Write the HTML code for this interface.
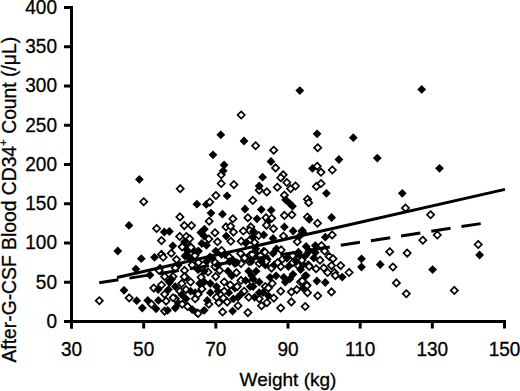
<!DOCTYPE html>
<html><head><meta charset="utf-8"><style>
html,body{margin:0;padding:0;background:#fff;}
svg{display:block;}
.o{fill:#fff;stroke:#000;stroke-width:1.7px;}
.f{fill:#000;}
text{font-family:"Liberation Sans",sans-serif;font-size:19px;fill:#000;stroke:#000;stroke-width:0.3px;}
.t{font-size:19.6px;}
</style></head><body>
<svg width="520" height="391" viewBox="0 0 520 391">
<line x1="71.5" y1="6.5" x2="71.5" y2="328.5" stroke="#000" stroke-width="3"/>
<line x1="70" y1="321.5" x2="506" y2="321.5" stroke="#000" stroke-width="3"/>
<line x1="64" y1="321.50" x2="73" y2="321.50" stroke="#000" stroke-width="3"/>
<text transform="translate(57 327.80) scale(0.97 1)" class="t" text-anchor="end">0</text>
<line x1="64" y1="282.25" x2="73" y2="282.25" stroke="#000" stroke-width="3"/>
<text transform="translate(57 288.55) scale(0.97 1)" class="t" text-anchor="end">50</text>
<line x1="64" y1="243.00" x2="73" y2="243.00" stroke="#000" stroke-width="3"/>
<text transform="translate(57 249.30) scale(0.97 1)" class="t" text-anchor="end">100</text>
<line x1="64" y1="203.75" x2="73" y2="203.75" stroke="#000" stroke-width="3"/>
<text transform="translate(57 210.05) scale(0.97 1)" class="t" text-anchor="end">150</text>
<line x1="64" y1="164.50" x2="73" y2="164.50" stroke="#000" stroke-width="3"/>
<text transform="translate(57 170.80) scale(0.97 1)" class="t" text-anchor="end">200</text>
<line x1="64" y1="125.25" x2="73" y2="125.25" stroke="#000" stroke-width="3"/>
<text transform="translate(57 131.55) scale(0.97 1)" class="t" text-anchor="end">250</text>
<line x1="64" y1="86.00" x2="73" y2="86.00" stroke="#000" stroke-width="3"/>
<text transform="translate(57 92.30) scale(0.97 1)" class="t" text-anchor="end">300</text>
<line x1="64" y1="46.75" x2="73" y2="46.75" stroke="#000" stroke-width="3"/>
<text transform="translate(57 53.05) scale(0.97 1)" class="t" text-anchor="end">350</text>
<line x1="64" y1="7.50" x2="73" y2="7.50" stroke="#000" stroke-width="3"/>
<text transform="translate(57 13.80) scale(0.97 1)" class="t" text-anchor="end">400</text>
<line x1="71.50" y1="320" x2="71.50" y2="328.5" stroke="#000" stroke-width="3"/>
<text transform="translate(71.50 355.9) scale(0.97 1)" class="t" text-anchor="middle">30</text>
<line x1="143.67" y1="320" x2="143.67" y2="328.5" stroke="#000" stroke-width="3"/>
<text transform="translate(143.67 355.9) scale(0.97 1)" class="t" text-anchor="middle">50</text>
<line x1="215.83" y1="320" x2="215.83" y2="328.5" stroke="#000" stroke-width="3"/>
<text transform="translate(215.83 355.9) scale(0.97 1)" class="t" text-anchor="middle">70</text>
<line x1="288.00" y1="320" x2="288.00" y2="328.5" stroke="#000" stroke-width="3"/>
<text transform="translate(288.00 355.9) scale(0.97 1)" class="t" text-anchor="middle">90</text>
<line x1="360.16" y1="320" x2="360.16" y2="328.5" stroke="#000" stroke-width="3"/>
<text transform="translate(360.16 355.9) scale(0.97 1)" class="t" text-anchor="middle">110</text>
<line x1="432.33" y1="320" x2="432.33" y2="328.5" stroke="#000" stroke-width="3"/>
<text transform="translate(432.33 355.9) scale(0.97 1)" class="t" text-anchor="middle">130</text>
<line x1="504.50" y1="320" x2="504.50" y2="328.5" stroke="#000" stroke-width="3"/>
<text transform="translate(504.50 355.9) scale(0.97 1)" class="t" text-anchor="middle">150</text>
<text x="288" y="386" text-anchor="middle">Weight (kg)</text>
<text transform="translate(15.8,199.7) rotate(-90)" text-anchor="middle" style="font-size:19.3px">After-G-CSF Blood CD34<tspan dy="-8.5" style="font-size:11.5px">+</tspan><tspan dy="8.5"> Count (/μL)</tspan></text>
<path class="f" d="M299.8 86.2l4.4 4.4-4.4 4.4-4.4-4.4z"/>
<path class="f" d="M421.7 85.0l4.4 4.4-4.4 4.4-4.4-4.4z"/>
<path class="o" d="M241.2 111.4l3.6 3.6-3.6 3.6-3.6-3.6z"/>
<path class="f" d="M220.8 130.4l4.4 4.4-4.4 4.4-4.4-4.4z"/>
<path class="f" d="M244.0 136.6l4.4 4.4-4.4 4.4-4.4-4.4z"/>
<path class="o" d="M255.6 142.2l3.6 3.6-3.6 3.6-3.6-3.6z"/>
<path class="o" d="M273.7 146.6l3.6 3.6-3.6 3.6-3.6-3.6z"/>
<path class="f" d="M317.1 129.4l4.4 4.4-4.4 4.4-4.4-4.4z"/>
<path class="f" d="M353.3 133.3l4.4 4.4-4.4 4.4-4.4-4.4z"/>
<path class="o" d="M317.7 144.1l3.6 3.6-3.6 3.6-3.6-3.6z"/>
<path class="f" d="M377.3 153.7l4.4 4.4-4.4 4.4-4.4-4.4z"/>
<path class="f" d="M439.5 163.9l4.4 4.4-4.4 4.4-4.4-4.4z"/>
<path class="f" d="M402.3 188.9l4.4 4.4-4.4 4.4-4.4-4.4z"/>
<path class="o" d="M405.5 204.5l3.6 3.6-3.6 3.6-3.6-3.6z"/>
<path class="o" d="M430.6 211.2l3.6 3.6-3.6 3.6-3.6-3.6z"/>
<path class="o" d="M437.3 231.4l3.6 3.6-3.6 3.6-3.6-3.6z"/>
<path class="o" d="M422.8 236.6l3.6 3.6-3.6 3.6-3.6-3.6z"/>
<path class="o" d="M478.2 240.9l3.6 3.6-3.6 3.6-3.6-3.6z"/>
<path class="f" d="M479.6 250.6l4.4 4.4-4.4 4.4-4.4-4.4z"/>
<path class="o" d="M389.7 248.1l3.6 3.6-3.6 3.6-3.6-3.6z"/>
<path class="o" d="M407.2 249.5l3.6 3.6-3.6 3.6-3.6-3.6z"/>
<path class="f" d="M380.2 260.1l4.4 4.4-4.4 4.4-4.4-4.4z"/>
<path class="o" d="M392.9 263.4l3.6 3.6-3.6 3.6-3.6-3.6z"/>
<path class="f" d="M432.6 265.2l4.4 4.4-4.4 4.4-4.4-4.4z"/>
<path class="o" d="M396.4 279.3l3.6 3.6-3.6 3.6-3.6-3.6z"/>
<path class="o" d="M406.3 290.1l3.6 3.6-3.6 3.6-3.6-3.6z"/>
<path class="o" d="M454.3 286.8l3.6 3.6-3.6 3.6-3.6-3.6z"/>
<path class="f" d="M338.9 155.1l4.4 4.4-4.4 4.4-4.4-4.4z"/>
<path class="f" d="M312.5 164.0l4.4 4.4-4.4 4.4-4.4-4.4z"/>
<path class="o" d="M317.2 162.6l3.6 3.6-3.6 3.6-3.6-3.6z"/>
<path class="o" d="M321.0 168.7l3.6 3.6-3.6 3.6-3.6-3.6z"/>
<path class="o" d="M332.3 166.4l3.6 3.6-3.6 3.6-3.6-3.6z"/>
<path class="o" d="M316.4 182.8l3.6 3.6-3.6 3.6-3.6-3.6z"/>
<path class="o" d="M321.0 179.9l3.6 3.6-3.6 3.6-3.6-3.6z"/>
<path class="f" d="M326.4 188.9l4.4 4.4-4.4 4.4-4.4-4.4z"/>
<path class="f" d="M139.4 175.0l4.4 4.4-4.4 4.4-4.4-4.4z"/>
<path class="o" d="M143.7 198.1l3.6 3.6-3.6 3.6-3.6-3.6z"/>
<path class="f" d="M129.0 221.0l4.4 4.4-4.4 4.4-4.4-4.4z"/>
<path class="f" d="M117.8 246.6l4.4 4.4-4.4 4.4-4.4-4.4z"/>
<path class="o" d="M99.3 297.1l3.6 3.6-3.6 3.6-3.6-3.6z"/>
<path class="f" d="M124.0 285.9l4.4 4.4-4.4 4.4-4.4-4.4z"/>
<path class="o" d="M129.2 294.3l3.6 3.6-3.6 3.6-3.6-3.6z"/>
<path class="f" d="M136.7 296.3l4.4 4.4-4.4 4.4-4.4-4.4z"/>
<path class="f" d="M135.9 264.7l4.4 4.4-4.4 4.4-4.4-4.4z"/>
<path class="o" d="M180.2 185.1l3.6 3.6-3.6 3.6-3.6-3.6z"/>
<path class="f" d="M213.0 150.4l4.4 4.4-4.4 4.4-4.4-4.4z"/>
<path class="f" d="M224.1 160.6l4.4 4.4-4.4 4.4-4.4-4.4z"/>
<path class="o" d="M221.3 171.2l3.6 3.6-3.6 3.6-3.6-3.6z"/>
<path class="f" d="M223.2 166.4l4.4 4.4-4.4 4.4-4.4-4.4z"/>
<path class="o" d="M221.2 179.9l3.6 3.6-3.6 3.6-3.6-3.6z"/>
<path class="o" d="M233.9 181.0l3.6 3.6-3.6 3.6-3.6-3.6z"/>
<path class="f" d="M262.6 172.8l4.4 4.4-4.4 4.4-4.4-4.4z"/>
<path class="o" d="M259.2 186.6l3.6 3.6-3.6 3.6-3.6-3.6z"/>
<path class="f" d="M259.2 181.6l4.4 4.4-4.4 4.4-4.4-4.4z"/>
<path class="f" d="M196.9 199.8l4.4 4.4-4.4 4.4-4.4-4.4z"/>
<path class="o" d="M179.9 213.3l3.6 3.6-3.6 3.6-3.6-3.6z"/>
<path class="o" d="M184.3 222.0l3.6 3.6-3.6 3.6-3.6-3.6z"/>
<path class="o" d="M191.5 222.0l3.6 3.6-3.6 3.6-3.6-3.6z"/>
<path class="o" d="M156.6 224.9l3.6 3.6-3.6 3.6-3.6-3.6z"/>
<path class="f" d="M164.3 227.6l4.4 4.4-4.4 4.4-4.4-4.4z"/>
<path class="f" d="M169.4 227.1l4.4 4.4-4.4 4.4-4.4-4.4z"/>
<path class="f" d="M204.4 224.8l4.4 4.4-4.4 4.4-4.4-4.4z"/>
<path class="o" d="M161.5 237.0l3.6 3.6-3.6 3.6-3.6-3.6z"/>
<path class="o" d="M179.7 232.9l3.6 3.6-3.6 3.6-3.6-3.6z"/>
<path class="o" d="M186.3 232.9l3.6 3.6-3.6 3.6-3.6-3.6z"/>
<path class="o" d="M189.7 235.2l3.6 3.6-3.6 3.6-3.6-3.6z"/>
<path class="f" d="M172.8 241.4l4.4 4.4-4.4 4.4-4.4-4.4z"/>
<path class="o" d="M171.3 249.7l3.6 3.6-3.6 3.6-3.6-3.6z"/>
<path class="o" d="M182.8 242.7l3.6 3.6-3.6 3.6-3.6-3.6z"/>
<path class="f" d="M185.7 243.6l4.4 4.4-4.4 4.4-4.4-4.4z"/>
<path class="o" d="M189.7 242.7l3.6 3.6-3.6 3.6-3.6-3.6z"/>
<path class="f" d="M154.5 252.9l4.4 4.4-4.4 4.4-4.4-4.4z"/>
<path class="o" d="M161.5 250.8l3.6 3.6-3.6 3.6-3.6-3.6z"/>
<path class="o" d="M163.2 253.7l3.6 3.6-3.6 3.6-3.6-3.6z"/>
<path class="f" d="M141.3 254.3l4.4 4.4-4.4 4.4-4.4-4.4z"/>
<path class="o" d="M176.5 256.0l3.6 3.6-3.6 3.6-3.6-3.6z"/>
<path class="f" d="M186.8 250.6l4.4 4.4-4.4 4.4-4.4-4.4z"/>
<path class="o" d="M194.9 252.0l3.6 3.6-3.6 3.6-3.6-3.6z"/>
<path class="f" d="M197.8 247.1l4.4 4.4-4.4 4.4-4.4-4.4z"/>
<path class="f" d="M201.8 239.1l4.4 4.4-4.4 4.4-4.4-4.4z"/>
<path class="f" d="M184.5 237.6l4.4 4.4-4.4 4.4-4.4-4.4z"/>
<path class="f" d="M188.0 246.6l4.4 4.4-4.4 4.4-4.4-4.4z"/>
<path class="f" d="M185.0 251.6l4.4 4.4-4.4 4.4-4.4-4.4z"/>
<path class="f" d="M190.5 254.6l4.4 4.4-4.4 4.4-4.4-4.4z"/>
<path class="f" d="M193.0 245.6l4.4 4.4-4.4 4.4-4.4-4.4z"/>
<path class="o" d="M182.2 243.3l3.6 3.6-3.6 3.6-3.6-3.6z"/>
<path class="o" d="M191.0 243.8l3.6 3.6-3.6 3.6-3.6-3.6z"/>
<path class="f" d="M271.0 157.1l4.4 4.4-4.4 4.4-4.4-4.4z"/>
<path class="o" d="M275.6 164.3l3.6 3.6-3.6 3.6-3.6-3.6z"/>
<path class="o" d="M283.1 171.2l3.6 3.6-3.6 3.6-3.6-3.6z"/>
<path class="o" d="M280.8 174.1l3.6 3.6-3.6 3.6-3.6-3.6z"/>
<path class="o" d="M286.8 178.9l3.6 3.6-3.6 3.6-3.6-3.6z"/>
<path class="o" d="M277.3 183.6l3.6 3.6-3.6 3.6-3.6-3.6z"/>
<path class="o" d="M290.6 185.1l3.6 3.6-3.6 3.6-3.6-3.6z"/>
<path class="o" d="M295.5 182.4l3.6 3.6-3.6 3.6-3.6-3.6z"/>
<path class="o" d="M266.8 188.3l3.6 3.6-3.6 3.6-3.6-3.6z"/>
<path class="o" d="M215.9 191.9l3.6 3.6-3.6 3.6-3.6-3.6z"/>
<path class="f" d="M227.1 191.4l4.4 4.4-4.4 4.4-4.4-4.4z"/>
<path class="o" d="M252.8 196.8l3.6 3.6-3.6 3.6-3.6-3.6z"/>
<path class="f" d="M206.3 200.0l4.4 4.4-4.4 4.4-4.4-4.4z"/>
<path class="o" d="M209.8 198.5l3.6 3.6-3.6 3.6-3.6-3.6z"/>
<path class="f" d="M211.0 208.7l4.4 4.4-4.4 4.4-4.4-4.4z"/>
<path class="f" d="M222.5 209.8l4.4 4.4-4.4 4.4-4.4-4.4z"/>
<path class="f" d="M245.0 204.6l4.4 4.4-4.4 4.4-4.4-4.4z"/>
<path class="o" d="M247.9 214.1l3.6 3.6-3.6 3.6-3.6-3.6z"/>
<path class="o" d="M232.9 215.2l3.6 3.6-3.6 3.6-3.6-3.6z"/>
<path class="o" d="M209.2 217.6l3.6 3.6-3.6 3.6-3.6-3.6z"/>
<path class="o" d="M226.0 223.3l3.6 3.6-3.6 3.6-3.6-3.6z"/>
<path class="o" d="M230.6 222.7l3.6 3.6-3.6 3.6-3.6-3.6z"/>
<path class="o" d="M250.8 223.3l3.6 3.6-3.6 3.6-3.6-3.6z"/>
<path class="o" d="M249.6 226.8l3.6 3.6-3.6 3.6-3.6-3.6z"/>
<path class="o" d="M215.0 229.1l3.6 3.6-3.6 3.6-3.6-3.6z"/>
<path class="o" d="M233.5 228.5l3.6 3.6-3.6 3.6-3.6-3.6z"/>
<path class="o" d="M243.3 227.4l3.6 3.6-3.6 3.6-3.6-3.6z"/>
<path class="o" d="M284.4 191.6l3.6 3.6-3.6 3.6-3.6-3.6z"/>
<path class="f" d="M285.6 195.4l4.4 4.4-4.4 4.4-4.4-4.4z"/>
<path class="f" d="M289.6 198.9l4.4 4.4-4.4 4.4-4.4-4.4z"/>
<path class="f" d="M292.5 201.8l4.4 4.4-4.4 4.4-4.4-4.4z"/>
<path class="o" d="M307.5 195.6l3.6 3.6-3.6 3.6-3.6-3.6z"/>
<path class="o" d="M308.7 199.1l3.6 3.6-3.6 3.6-3.6-3.6z"/>
<path class="f" d="M261.3 205.2l4.4 4.4-4.4 4.4-4.4-4.4z"/>
<path class="f" d="M271.2 205.8l4.4 4.4-4.4 4.4-4.4-4.4z"/>
<path class="o" d="M284.4 211.8l3.6 3.6-3.6 3.6-3.6-3.6z"/>
<path class="o" d="M291.9 211.2l3.6 3.6-3.6 3.6-3.6-3.6z"/>
<path class="o" d="M266.0 214.1l3.6 3.6-3.6 3.6-3.6-3.6z"/>
<path class="o" d="M271.7 214.7l3.6 3.6-3.6 3.6-3.6-3.6z"/>
<path class="f" d="M257.0 214.4l4.4 4.4-4.4 4.4-4.4-4.4z"/>
<path class="f" d="M268.3 216.8l4.4 4.4-4.4 4.4-4.4-4.4z"/>
<path class="o" d="M307.5 213.5l3.6 3.6-3.6 3.6-3.6-3.6z"/>
<path class="f" d="M309.2 215.0l4.4 4.4-4.4 4.4-4.4-4.4z"/>
<path class="o" d="M266.5 221.6l3.6 3.6-3.6 3.6-3.6-3.6z"/>
<path class="f" d="M284.4 222.5l4.4 4.4-4.4 4.4-4.4-4.4z"/>
<path class="o" d="M273.5 225.1l3.6 3.6-3.6 3.6-3.6-3.6z"/>
<path class="f" d="M293.1 226.6l4.4 4.4-4.4 4.4-4.4-4.4z"/>
<path class="f" d="M302.3 226.0l4.4 4.4-4.4 4.4-4.4-4.4z"/>
<path class="f" d="M331.6 213.1l4.4 4.4-4.4 4.4-4.4-4.4z"/>
<path class="o" d="M317.5 219.6l3.6 3.6-3.6 3.6-3.6-3.6z"/>
<path class="f" d="M142.3 303.6l4.4 4.4-4.4 4.4-4.4-4.4z"/>
<path class="f" d="M147.7 296.0l4.4 4.4-4.4 4.4-4.4-4.4z"/>
<path class="o" d="M151.5 300.6l3.6 3.6-3.6 3.6-3.6-3.6z"/>
<path class="f" d="M156.1 304.4l4.4 4.4-4.4 4.4-4.4-4.4z"/>
<path class="o" d="M153.8 284.5l3.6 3.6-3.6 3.6-3.6-3.6z"/>
<path class="o" d="M161.5 281.4l3.6 3.6-3.6 3.6-3.6-3.6z"/>
<path class="o" d="M164.6 290.6l3.6 3.6-3.6 3.6-3.6-3.6z"/>
<path class="f" d="M158.4 296.0l4.4 4.4-4.4 4.4-4.4-4.4z"/>
<path class="o" d="M166.1 297.5l3.6 3.6-3.6 3.6-3.6-3.6z"/>
<path class="f" d="M169.2 276.8l4.4 4.4-4.4 4.4-4.4-4.4z"/>
<path class="o" d="M164.6 273.0l3.6 3.6-3.6 3.6-3.6-3.6z"/>
<path class="o" d="M173.0 273.0l3.6 3.6-3.6 3.6-3.6-3.6z"/>
<path class="o" d="M179.9 287.6l3.6 3.6-3.6 3.6-3.6-3.6z"/>
<path class="f" d="M175.3 282.2l4.4 4.4-4.4 4.4-4.4-4.4z"/>
<path class="o" d="M184.5 266.8l3.6 3.6-3.6 3.6-3.6-3.6z"/>
<path class="f" d="M186.0 272.9l4.4 4.4-4.4 4.4-4.4-4.4z"/>
<path class="o" d="M190.6 278.4l3.6 3.6-3.6 3.6-3.6-3.6z"/>
<path class="o" d="M186.0 286.0l3.6 3.6-3.6 3.6-3.6-3.6z"/>
<path class="o" d="M175.3 295.2l3.6 3.6-3.6 3.6-3.6-3.6z"/>
<path class="f" d="M178.4 299.0l4.4 4.4-4.4 4.4-4.4-4.4z"/>
<path class="f" d="M175.3 303.6l4.4 4.4-4.4 4.4-4.4-4.4z"/>
<path class="o" d="M164.6 307.5l3.6 3.6-3.6 3.6-3.6-3.6z"/>
<path class="f" d="M167.6 305.9l4.4 4.4-4.4 4.4-4.4-4.4z"/>
<path class="o" d="M182.2 300.6l3.6 3.6-3.6 3.6-3.6-3.6z"/>
<path class="f" d="M186.0 294.4l4.4 4.4-4.4 4.4-4.4-4.4z"/>
<path class="o" d="M187.6 302.9l3.6 3.6-3.6 3.6-3.6-3.6z"/>
<path class="f" d="M192.2 305.2l4.4 4.4-4.4 4.4-4.4-4.4z"/>
<path class="o" d="M195.2 295.2l3.6 3.6-3.6 3.6-3.6-3.6z"/>
<path class="f" d="M196.8 308.2l4.4 4.4-4.4 4.4-4.4-4.4z"/>
<path class="f" d="M190.6 286.8l4.4 4.4-4.4 4.4-4.4-4.4z"/>
<path class="f" d="M195.2 288.3l4.4 4.4-4.4 4.4-4.4-4.4z"/>
<path class="o" d="M192.2 261.4l3.6 3.6-3.6 3.6-3.6-3.6z"/>
<path class="f" d="M178.4 260.6l4.4 4.4-4.4 4.4-4.4-4.4z"/>
<path class="o" d="M175.3 264.5l3.6 3.6-3.6 3.6-3.6-3.6z"/>
<path class="f" d="M160.0 263.7l4.4 4.4-4.4 4.4-4.4-4.4z"/>
<path class="o" d="M159.2 266.8l3.6 3.6-3.6 3.6-3.6-3.6z"/>
<path class="f" d="M204.2 305.9l4.4 4.4-4.4 4.4-4.4-4.4z"/>
<path class="o" d="M222.6 308.3l3.6 3.6-3.6 3.6-3.6-3.6z"/>
<path class="o" d="M247.9 309.0l3.6 3.6-3.6 3.6-3.6-3.6z"/>
<path class="o" d="M198.1 309.8l3.6 3.6-3.6 3.6-3.6-3.6z"/>
<path class="o" d="M208.8 300.6l3.6 3.6-3.6 3.6-3.6-3.6z"/>
<path class="o" d="M218.8 299.1l3.6 3.6-3.6 3.6-3.6-3.6z"/>
<path class="f" d="M232.6 306.7l4.4 4.4-4.4 4.4-4.4-4.4z"/>
<path class="o" d="M238.0 302.1l3.6 3.6-3.6 3.6-3.6-3.6z"/>
<path class="o" d="M216.5 293.7l3.6 3.6-3.6 3.6-3.6-3.6z"/>
<path class="o" d="M223.4 294.5l3.6 3.6-3.6 3.6-3.6-3.6z"/>
<path class="f" d="M233.4 294.4l4.4 4.4-4.4 4.4-4.4-4.4z"/>
<path class="o" d="M201.9 285.3l3.6 3.6-3.6 3.6-3.6-3.6z"/>
<path class="o" d="M198.1 290.6l3.6 3.6-3.6 3.6-3.6-3.6z"/>
<path class="f" d="M207.3 296.0l4.4 4.4-4.4 4.4-4.4-4.4z"/>
<path class="f" d="M210.3 279.1l4.4 4.4-4.4 4.4-4.4-4.4z"/>
<path class="f" d="M216.5 282.2l4.4 4.4-4.4 4.4-4.4-4.4z"/>
<path class="f" d="M204.2 277.6l4.4 4.4-4.4 4.4-4.4-4.4z"/>
<path class="o" d="M201.1 273.7l3.6 3.6-3.6 3.6-3.6-3.6z"/>
<path class="o" d="M215.7 273.0l3.6 3.6-3.6 3.6-3.6-3.6z"/>
<path class="o" d="M224.2 278.4l3.6 3.6-3.6 3.6-3.6-3.6z"/>
<path class="o" d="M219.6 266.8l3.6 3.6-3.6 3.6-3.6-3.6z"/>
<path class="o" d="M214.9 263.0l3.6 3.6-3.6 3.6-3.6-3.6z"/>
<path class="o" d="M208.0 268.4l3.6 3.6-3.6 3.6-3.6-3.6z"/>
<path class="f" d="M198.1 265.3l4.4 4.4-4.4 4.4-4.4-4.4z"/>
<path class="f" d="M228.0 266.8l4.4 4.4-4.4 4.4-4.4-4.4z"/>
<path class="f" d="M231.8 271.4l4.4 4.4-4.4 4.4-4.4-4.4z"/>
<path class="o" d="M236.4 269.1l3.6 3.6-3.6 3.6-3.6-3.6z"/>
<path class="o" d="M230.3 281.4l3.6 3.6-3.6 3.6-3.6-3.6z"/>
<path class="f" d="M234.9 283.7l4.4 4.4-4.4 4.4-4.4-4.4z"/>
<path class="o" d="M237.2 283.0l3.6 3.6-3.6 3.6-3.6-3.6z"/>
<path class="o" d="M241.0 276.8l3.6 3.6-3.6 3.6-3.6-3.6z"/>
<path class="o" d="M244.1 287.6l3.6 3.6-3.6 3.6-3.6-3.6z"/>
<path class="f" d="M241.0 289.8l4.4 4.4-4.4 4.4-4.4-4.4z"/>
<path class="o" d="M248.7 293.7l3.6 3.6-3.6 3.6-3.6-3.6z"/>
<path class="f" d="M250.2 282.2l4.4 4.4-4.4 4.4-4.4-4.4z"/>
<path class="o" d="M252.5 278.4l3.6 3.6-3.6 3.6-3.6-3.6z"/>
<path class="f" d="M248.7 266.8l4.4 4.4-4.4 4.4-4.4-4.4z"/>
<path class="o" d="M241.0 259.9l3.6 3.6-3.6 3.6-3.6-3.6z"/>
<path class="f" d="M234.9 259.1l4.4 4.4-4.4 4.4-4.4-4.4z"/>
<path class="f" d="M251.8 271.4l4.4 4.4-4.4 4.4-4.4-4.4z"/>
<path class="o" d="M227.2 298.3l3.6 3.6-3.6 3.6-3.6-3.6z"/>
<path class="f" d="M228.8 288.3l4.4 4.4-4.4 4.4-4.4-4.4z"/>
<path class="o" d="M224.2 287.6l3.6 3.6-3.6 3.6-3.6-3.6z"/>
<path class="f" d="M218.0 286.8l4.4 4.4-4.4 4.4-4.4-4.4z"/>
<path class="o" d="M280.7 304.4l3.6 3.6-3.6 3.6-3.6-3.6z"/>
<path class="o" d="M305.2 302.9l3.6 3.6-3.6 3.6-3.6-3.6z"/>
<path class="o" d="M291.4 298.3l3.6 3.6-3.6 3.6-3.6-3.6z"/>
<path class="o" d="M291.4 288.3l3.6 3.6-3.6 3.6-3.6-3.6z"/>
<path class="o" d="M296.8 286.0l3.6 3.6-3.6 3.6-3.6-3.6z"/>
<path class="o" d="M280.7 287.6l3.6 3.6-3.6 3.6-3.6-3.6z"/>
<path class="o" d="M273.8 294.5l3.6 3.6-3.6 3.6-3.6-3.6z"/>
<path class="o" d="M266.9 299.1l3.6 3.6-3.6 3.6-3.6-3.6z"/>
<path class="o" d="M261.5 302.1l3.6 3.6-3.6 3.6-3.6-3.6z"/>
<path class="o" d="M259.2 295.2l3.6 3.6-3.6 3.6-3.6-3.6z"/>
<path class="f" d="M254.6 292.9l4.4 4.4-4.4 4.4-4.4-4.4z"/>
<path class="f" d="M268.4 291.4l4.4 4.4-4.4 4.4-4.4-4.4z"/>
<path class="f" d="M263.0 288.3l4.4 4.4-4.4 4.4-4.4-4.4z"/>
<path class="o" d="M272.2 279.9l3.6 3.6-3.6 3.6-3.6-3.6z"/>
<path class="o" d="M300.6 278.4l3.6 3.6-3.6 3.6-3.6-3.6z"/>
<path class="o" d="M306.8 281.4l3.6 3.6-3.6 3.6-3.6-3.6z"/>
<path class="o" d="M307.5 289.1l3.6 3.6-3.6 3.6-3.6-3.6z"/>
<path class="f" d="M283.8 272.9l4.4 4.4-4.4 4.4-4.4-4.4z"/>
<path class="f" d="M289.9 274.5l4.4 4.4-4.4 4.4-4.4-4.4z"/>
<path class="f" d="M293.0 269.9l4.4 4.4-4.4 4.4-4.4-4.4z"/>
<path class="f" d="M305.2 271.4l4.4 4.4-4.4 4.4-4.4-4.4z"/>
<path class="f" d="M270.0 272.9l4.4 4.4-4.4 4.4-4.4-4.4z"/>
<path class="f" d="M276.1 271.4l4.4 4.4-4.4 4.4-4.4-4.4z"/>
<path class="f" d="M256.1 266.8l4.4 4.4-4.4 4.4-4.4-4.4z"/>
<path class="f" d="M253.1 274.5l4.4 4.4-4.4 4.4-4.4-4.4z"/>
<path class="f" d="M253.1 282.2l4.4 4.4-4.4 4.4-4.4-4.4z"/>
<path class="f" d="M259.2 277.6l4.4 4.4-4.4 4.4-4.4-4.4z"/>
<path class="f" d="M259.2 288.3l4.4 4.4-4.4 4.4-4.4-4.4z"/>
<path class="o" d="M265.3 283.0l3.6 3.6-3.6 3.6-3.6-3.6z"/>
<path class="o" d="M268.4 284.5l3.6 3.6-3.6 3.6-3.6-3.6z"/>
<path class="o" d="M280.7 263.0l3.6 3.6-3.6 3.6-3.6-3.6z"/>
<path class="o" d="M271.5 264.5l3.6 3.6-3.6 3.6-3.6-3.6z"/>
<path class="f" d="M288.4 262.2l4.4 4.4-4.4 4.4-4.4-4.4z"/>
<path class="o" d="M297.6 261.4l3.6 3.6-3.6 3.6-3.6-3.6z"/>
<path class="f" d="M300.6 265.3l4.4 4.4-4.4 4.4-4.4-4.4z"/>
<path class="o" d="M308.3 261.4l3.6 3.6-3.6 3.6-3.6-3.6z"/>
<path class="f" d="M265.3 260.6l4.4 4.4-4.4 4.4-4.4-4.4z"/>
<path class="o" d="M259.2 259.9l3.6 3.6-3.6 3.6-3.6-3.6z"/>
<path class="f" d="M285.3 277.6l4.4 4.4-4.4 4.4-4.4-4.4z"/>
<path class="o" d="M332.2 231.3l3.6 3.6-3.6 3.6-3.6-3.6z"/>
<path class="f" d="M325.3 232.8l4.4 4.4-4.4 4.4-4.4-4.4z"/>
<path class="f" d="M306.1 242.0l4.4 4.4-4.4 4.4-4.4-4.4z"/>
<path class="f" d="M315.3 241.2l4.4 4.4-4.4 4.4-4.4-4.4z"/>
<path class="o" d="M321.5 242.0l3.6 3.6-3.6 3.6-3.6-3.6z"/>
<path class="o" d="M324.6 247.4l3.6 3.6-3.6 3.6-3.6-3.6z"/>
<path class="f" d="M315.3 248.2l4.4 4.4-4.4 4.4-4.4-4.4z"/>
<path class="f" d="M309.2 246.6l4.4 4.4-4.4 4.4-4.4-4.4z"/>
<path class="o" d="M329.2 252.8l3.6 3.6-3.6 3.6-3.6-3.6z"/>
<path class="o" d="M333.0 255.1l3.6 3.6-3.6 3.6-3.6-3.6z"/>
<path class="o" d="M320.0 256.6l3.6 3.6-3.6 3.6-3.6-3.6z"/>
<path class="f" d="M313.8 253.5l4.4 4.4-4.4 4.4-4.4-4.4z"/>
<path class="o" d="M309.2 262.8l3.6 3.6-3.6 3.6-3.6-3.6z"/>
<path class="o" d="M316.1 265.1l3.6 3.6-3.6 3.6-3.6-3.6z"/>
<path class="o" d="M323.8 264.3l3.6 3.6-3.6 3.6-3.6-3.6z"/>
<path class="o" d="M331.5 262.0l3.6 3.6-3.6 3.6-3.6-3.6z"/>
<path class="o" d="M340.7 262.0l3.6 3.6-3.6 3.6-3.6-3.6z"/>
<path class="o" d="M327.6 268.9l3.6 3.6-3.6 3.6-3.6-3.6z"/>
<path class="o" d="M334.5 268.9l3.6 3.6-3.6 3.6-3.6-3.6z"/>
<path class="o" d="M335.3 272.0l3.6 3.6-3.6 3.6-3.6-3.6z"/>
<path class="f" d="M342.2 272.7l4.4 4.4-4.4 4.4-4.4-4.4z"/>
<path class="o" d="M349.1 268.9l3.6 3.6-3.6 3.6-3.6-3.6z"/>
<path class="f" d="M306.1 271.2l4.4 4.4-4.4 4.4-4.4-4.4z"/>
<path class="f" d="M316.9 276.6l4.4 4.4-4.4 4.4-4.4-4.4z"/>
<path class="f" d="M325.3 278.1l4.4 4.4-4.4 4.4-4.4-4.4z"/>
<path class="o" d="M302.3 277.4l3.6 3.6-3.6 3.6-3.6-3.6z"/>
<path class="f" d="M303.1 260.4l4.4 4.4-4.4 4.4-4.4-4.4z"/>
<path class="f" d="M300.0 251.2l4.4 4.4-4.4 4.4-4.4-4.4z"/>
<path class="f" d="M303.1 228.2l4.4 4.4-4.4 4.4-4.4-4.4z"/>
<path class="f" d="M361.5 254.4l4.4 4.4-4.4 4.4-4.4-4.4z"/>
<path class="f" d="M361.5 262.6l4.4 4.4-4.4 4.4-4.4-4.4z"/>
<path class="o" d="M331.5 288.3l3.6 3.6-3.6 3.6-3.6-3.6z"/>
<path class="o" d="M317.7 292.2l3.6 3.6-3.6 3.6-3.6-3.6z"/>
<path class="o" d="M306.9 282.2l3.6 3.6-3.6 3.6-3.6-3.6z"/>
<path class="f" d="M303.1 283.7l4.4 4.4-4.4 4.4-4.4-4.4z"/>
<path class="f" d="M226.2 231.7l4.4 4.4-4.4 4.4-4.4-4.4z"/>
<path class="o" d="M230.8 237.7l3.6 3.6-3.6 3.6-3.6-3.6z"/>
<path class="o" d="M241.2 237.7l3.6 3.6-3.6 3.6-3.6-3.6z"/>
<path class="o" d="M217.5 238.2l3.6 3.6-3.6 3.6-3.6-3.6z"/>
<path class="o" d="M208.8 235.4l3.6 3.6-3.6 3.6-3.6-3.6z"/>
<path class="f" d="M204.2 231.7l4.4 4.4-4.4 4.4-4.4-4.4z"/>
<path class="f" d="M200.8 228.2l4.4 4.4-4.4 4.4-4.4-4.4z"/>
<path class="f" d="M198.5 246.7l4.4 4.4-4.4 4.4-4.4-4.4z"/>
<path class="f" d="M206.5 240.9l4.4 4.4-4.4 4.4-4.4-4.4z"/>
<path class="o" d="M250.4 235.9l3.6 3.6-3.6 3.6-3.6-3.6z"/>
<path class="f" d="M245.8 238.6l4.4 4.4-4.4 4.4-4.4-4.4z"/>
<path class="o" d="M240.6 249.8l3.6 3.6-3.6 3.6-3.6-3.6z"/>
<path class="o" d="M250.4 251.5l3.6 3.6-3.6 3.6-3.6-3.6z"/>
<path class="o" d="M244.6 254.4l3.6 3.6-3.6 3.6-3.6-3.6z"/>
<path class="f" d="M215.8 246.7l4.4 4.4-4.4 4.4-4.4-4.4z"/>
<path class="f" d="M221.5 250.1l4.4 4.4-4.4 4.4-4.4-4.4z"/>
<path class="o" d="M215.2 259.0l3.6 3.6-3.6 3.6-3.6-3.6z"/>
<path class="o" d="M229.0 253.2l3.6 3.6-3.6 3.6-3.6-3.6z"/>
<path class="f" d="M229.6 257.1l4.4 4.4-4.4 4.4-4.4-4.4z"/>
<path class="f" d="M206.5 257.1l4.4 4.4-4.4 4.4-4.4-4.4z"/>
<path class="o" d="M198.5 259.0l3.6 3.6-3.6 3.6-3.6-3.6z"/>
<path class="f" d="M210.0 252.4l4.4 4.4-4.4 4.4-4.4-4.4z"/>
<path class="o" d="M221.5 246.9l3.6 3.6-3.6 3.6-3.6-3.6z"/>
<path class="f" d="M236.5 258.2l4.4 4.4-4.4 4.4-4.4-4.4z"/>
<path class="o" d="M249.2 257.9l3.6 3.6-3.6 3.6-3.6-3.6z"/>
<path class="f" d="M252.7 232.8l4.4 4.4-4.4 4.4-4.4-4.4z"/>
<path class="o" d="M258.7 231.9l3.6 3.6-3.6 3.6-3.6-3.6z"/>
<path class="o" d="M254.6 238.8l3.6 3.6-3.6 3.6-3.6-3.6z"/>
<path class="f" d="M253.5 227.1l4.4 4.4-4.4 4.4-4.4-4.4z"/>
<path class="f" d="M263.8 230.5l4.4 4.4-4.4 4.4-4.4-4.4z"/>
<path class="o" d="M283.5 232.5l3.6 3.6-3.6 3.6-3.6-3.6z"/>
<path class="f" d="M273.0 234.0l4.4 4.4-4.4 4.4-4.4-4.4z"/>
<path class="f" d="M298.5 232.8l4.4 4.4-4.4 4.4-4.4-4.4z"/>
<path class="o" d="M297.3 238.2l3.6 3.6-3.6 3.6-3.6-3.6z"/>
<path class="f" d="M301.9 227.1l4.4 4.4-4.4 4.4-4.4-4.4z"/>
<path class="f" d="M298.5 247.8l4.4 4.4-4.4 4.4-4.4-4.4z"/>
<path class="f" d="M293.8 252.4l4.4 4.4-4.4 4.4-4.4-4.4z"/>
<path class="o" d="M292.7 252.1l3.6 3.6-3.6 3.6-3.6-3.6z"/>
<path class="f" d="M276.5 244.4l4.4 4.4-4.4 4.4-4.4-4.4z"/>
<path class="f" d="M273.0 249.0l4.4 4.4-4.4 4.4-4.4-4.4z"/>
<path class="o" d="M281.2 246.3l3.6 3.6-3.6 3.6-3.6-3.6z"/>
<path class="o" d="M282.3 255.6l3.6 3.6-3.6 3.6-3.6-3.6z"/>
<path class="f" d="M286.9 253.6l4.4 4.4-4.4 4.4-4.4-4.4z"/>
<path class="f" d="M263.8 246.7l4.4 4.4-4.4 4.4-4.4-4.4z"/>
<path class="o" d="M265.0 248.6l3.6 3.6-3.6 3.6-3.6-3.6z"/>
<path class="f" d="M255.8 244.4l4.4 4.4-4.4 4.4-4.4-4.4z"/>
<path class="f" d="M256.9 250.1l4.4 4.4-4.4 4.4-4.4-4.4z"/>
<path class="o" d="M260.4 252.1l3.6 3.6-3.6 3.6-3.6-3.6z"/>
<path class="f" d="M267.3 254.8l4.4 4.4-4.4 4.4-4.4-4.4z"/>
<path class="o" d="M266.2 257.9l3.6 3.6-3.6 3.6-3.6-3.6z"/>
<path class="f" d="M261.5 257.1l4.4 4.4-4.4 4.4-4.4-4.4z"/>
<path class="o" d="M252.3 250.9l3.6 3.6-3.6 3.6-3.6-3.6z"/>
<path class="f" d="M274.2 260.5l4.4 4.4-4.4 4.4-4.4-4.4z"/>
<path class="o" d="M277.7 259.0l3.6 3.6-3.6 3.6-3.6-3.6z"/>
<path class="o" d="M292.7 259.0l3.6 3.6-3.6 3.6-3.6-3.6z"/>
<path class="f" d="M296.2 257.1l4.4 4.4-4.4 4.4-4.4-4.4z"/>
<path class="o" d="M301.9 256.7l3.6 3.6-3.6 3.6-3.6-3.6z"/>
<path class="f" d="M305.4 251.3l4.4 4.4-4.4 4.4-4.4-4.4z"/>
<path class="f" d="M308.8 246.7l4.4 4.4-4.4 4.4-4.4-4.4z"/>
<path class="f" d="M251.2 257.1l4.4 4.4-4.4 4.4-4.4-4.4z"/>
<path class="f" d="M150.0 270.6l4.4 4.4-4.4 4.4-4.4-4.4z"/>
<path class="f" d="M158.2 285.2l4.4 4.4-4.4 4.4-4.4-4.4z"/>
<path class="f" d="M169.5 278.1l4.4 4.4-4.4 4.4-4.4-4.4z"/>
<path class="f" d="M171.5 275.0l4.4 4.4-4.4 4.4-4.4-4.4z"/>
<path class="f" d="M168.5 285.2l4.4 4.4-4.4 4.4-4.4-4.4z"/>
<path class="f" d="M181.8 290.3l4.4 4.4-4.4 4.4-4.4-4.4z"/>
<path class="o" d="M184.3 273.2l3.6 3.6-3.6 3.6-3.6-3.6z"/>
<path class="o" d="M181.8 279.9l3.6 3.6-3.6 3.6-3.6-3.6z"/>
<path class="o" d="M173.1 294.2l3.6 3.6-3.6 3.6-3.6-3.6z"/>
<path class="f" d="M212.3 253.6l4.4 4.4-4.4 4.4-4.4-4.4z"/>
<path class="f" d="M225.0 250.1l4.4 4.4-4.4 4.4-4.4-4.4z"/>
<path class="f" d="M233.1 255.9l4.4 4.4-4.4 4.4-4.4-4.4z"/>
<path class="f" d="M218.0 260.5l4.4 4.4-4.4 4.4-4.4-4.4z"/>
<path class="f" d="M199.6 279.1l4.4 4.4-4.4 4.4-4.4-4.4z"/>
<path class="f" d="M210.3 288.3l4.4 4.4-4.4 4.4-4.4-4.4z"/>
<path class="f" d="M204.2 266.8l4.4 4.4-4.4 4.4-4.4-4.4z"/>
<path class="f" d="M238.0 292.9l4.4 4.4-4.4 4.4-4.4-4.4z"/>
<path class="f" d="M245.6 276.0l4.4 4.4-4.4 4.4-4.4-4.4z"/>
<line x1="117" y1="277.5" x2="505" y2="189.4" stroke="#000" stroke-width="3"/>
<line x1="99.2" y1="282.8" x2="480.8" y2="223.6" stroke="#000" stroke-width="3" stroke-dasharray="19.5 11.05"/>
</svg>
</body></html>
